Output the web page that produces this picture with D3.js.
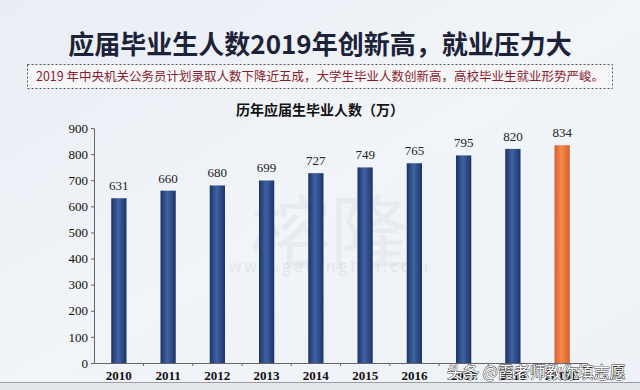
<!DOCTYPE html>
<html>
<head>
<meta charset="utf-8">
<script src="https://cdn.jsdelivr.net/npm/d3@7"></script>
<style>
  body { margin: 0; background: #eef2f7; }
  svg { display: block; }
</style>
</head>
<body>
<div id="chart"></div>
<script>
var years = ["2010", "2011", "2012", "2013", "2014", "2015", "2016", "2017", "2018", "2019E"];
var graduates = [631, 660, 680, 699, 727, 749, 765, 795, 820, 834];
var yTicks = [0, 100, 200, 300, 400, 500, 600, 700, 800, 900];

var width = 640, height = 390;
var svg = d3.select("#chart").append("svg")
    .attr("width", width)
    .attr("height", height);

var defs = svg.append("defs");
var bg = defs.append("linearGradient").attr("id", "bg").attr("x1", 0).attr("y1", 0).attr("x2", 1).attr("y2", 1);
bg.append("stop").attr("offset", "0%").attr("stop-color", "#e9eef5");
bg.append("stop").attr("offset", "50%").attr("stop-color", "#f1f4f8");
bg.append("stop").attr("offset", "100%").attr("stop-color", "#eef1f6");

// bar shading, dark edges lighter middle
var blue = defs.append("linearGradient").attr("id", "blue").attr("x1", 0).attr("x2", 1);
blue.append("stop").attr("offset", "0%").attr("stop-color", "#1c3467");
blue.append("stop").attr("offset", "45%").attr("stop-color", "#3f63a3");
blue.append("stop").attr("offset", "100%").attr("stop-color", "#1d3568");
var orange = defs.append("linearGradient").attr("id", "orange").attr("x1", 0).attr("x2", 1);
orange.append("stop").attr("offset", "0%").attr("stop-color", "#d9602a");
orange.append("stop").attr("offset", "45%").attr("stop-color", "#f28a4c");
orange.append("stop").attr("offset", "100%").attr("stop-color", "#d65c27");

svg.append("rect").attr("width", width).attr("height", height).attr("fill", "url(#bg)");

// headline
svg.append("text")
    .attr("x", 320).attr("y", 54)
    .attr("text-anchor", "middle")
    .attr("font-family", "'Noto Sans CJK SC', sans-serif")
    .attr("font-weight", "bold")
    .attr("font-size", "26px")
    .attr("fill", "#1c2238")
    .text("应届毕业生人数2019年创新高，就业压力大");

svg.append("rect")
    .attr("x", 27.5).attr("y", 64.5)
    .attr("width", 585).attr("height", 24)
    .attr("fill", "#f7f7f9")
    .attr("stroke", "#555")
    .attr("stroke-dasharray", "2,2");

svg.append("text")
    .attr("x", 320).attr("y", 81)
    .attr("text-anchor", "middle")
    .attr("font-family", "'Noto Sans CJK SC', sans-serif")
    .attr("font-size", "12.5px")
    .attr("fill", "#8a1c2c")
    .text("2019 年中央机关公务员计划录取人数下降近五成，大学生毕业人数创新高，高校毕业生就业形势严峻。");

// chart title
svg.append("text")
    .attr("x", 320).attr("y", 115)
    .attr("text-anchor", "middle")
    .attr("font-family", "'Noto Sans CJK SC', serif")
    .attr("font-weight", "bold")
    .attr("font-size", "14px")
    .attr("fill", "#111")
    .text("历年应届生毕业人数（万）");

var margin = { left: 94, right: 53, top: 128, bottom: 27 };
var x = d3.scaleBand()
    .domain(years)
    .range([margin.left, width - margin.right])
    .paddingInner(0.69)
    .paddingOuter(0.35);
var y = d3.scaleLinear()
    .domain([0, 900])
    .range([height - margin.bottom, margin.top]);

// faint background watermark
svg.append("text")
    .attr("x", 330).attr("y", 262)
    .attr("text-anchor", "middle")
    .attr("font-family", "'Noto Sans CJK SC', sans-serif")
    .attr("font-size", "80px")
    .attr("fill", "#dde1e6")
    .attr("opacity", 0.45)
    .text("榕隆");
svg.append("text")
    .attr("x", 330).attr("y", 272)
    .attr("text-anchor", "middle")
    .attr("font-family", "'Open Sans', sans-serif")
    .attr("font-size", "16px")
    .attr("letter-spacing", "3px")
    .attr("fill", "#d6dae0")
    .attr("opacity", 0.6)
    .text("www.gelonghui.com");

var yAxis = d3.axisLeft(y).tickValues(yTicks).tickSize(3).tickSizeOuter(0);
var gy = svg.append("g")
    .attr("transform", "translate(" + margin.left + ",0)")
    .call(yAxis);
gy.select(".domain").attr("stroke", "#666");
gy.selectAll(".tick line").attr("stroke", "#666");
gy.selectAll(".tick text")
    .attr("x", -6)
    .attr("font-family", "'Liberation Serif', serif")
    .attr("font-size", "13px")
    .attr("fill", "#111");

var xAxis = d3.axisBottom(x).tickSize(0).tickSizeOuter(0);
var gx = svg.append("g")
    .attr("transform", "translate(0," + y(0) + ")")
    .call(xAxis);
gx.select(".domain").attr("stroke", "#666");
gx.selectAll(".tick text")
    .attr("dy", "1.1em")
    .attr("font-family", "'Liberation Serif', serif")
    .attr("font-weight", "bold")
    .attr("font-size", "13px")
    .attr("fill", "#111");
// small separators between categories
gx.selectAll(".sep")
    .data(years.slice(1))
    .enter().append("line")
    .attr("x1", d => x(d) - x.step() * x.paddingInner() / 2)
    .attr("x2", d => x(d) - x.step() * x.paddingInner() / 2)
    .attr("y1", 0).attr("y2", 3)
    .attr("stroke", "#666");

svg.selectAll(".bar")
    .data(graduates)
    .enter().append("rect")
    .attr("class", "bar")
    .attr("x", (d, i) => x(years[i]))
    .attr("y", d => y(d))
    .attr("width", x.bandwidth())
    .attr("height", d => y(0) - y(d))
    .attr("fill", (d, i) => i === years.length - 1 ? "url(#orange)" : "url(#blue)");

svg.selectAll(".val")
    .data(graduates)
    .enter().append("text")
    .attr("class", "val")
    .attr("x", (d, i) => x(years[i]) + x.bandwidth() / 2)
    .attr("y", d => y(d) - 8)
    .attr("text-anchor", "middle")
    .attr("font-family", "'Liberation Serif', serif")
    .attr("font-size", "13px")
    .attr("fill", "#222")
    .text(d => d);

// bottom strip
svg.append("rect")
    .attr("x", 0).attr("y", 382)
    .attr("width", width).attr("height", 8)
    .attr("fill", "#e4e7eb");
svg.append("line")
    .attr("x1", 0).attr("x2", width)
    .attr("y1", 382.5).attr("y2", 382.5)
    .attr("stroke", "#9a9ea4");

// toutiao watermark, sits over the last x labels like in the source image
svg.append("text")
    .attr("x", 447).attr("y", 378)
    .attr("font-family", "'Noto Sans CJK SC', sans-serif")
    .attr("font-size", "16px")
    .attr("fill", "#fff")
    .attr("stroke", "#333")
    .attr("stroke-width", 0.9)
    .attr("paint-order", "stroke")
    .text("头条 @霞老师教你填志愿");
</script>
</body>
</html>
